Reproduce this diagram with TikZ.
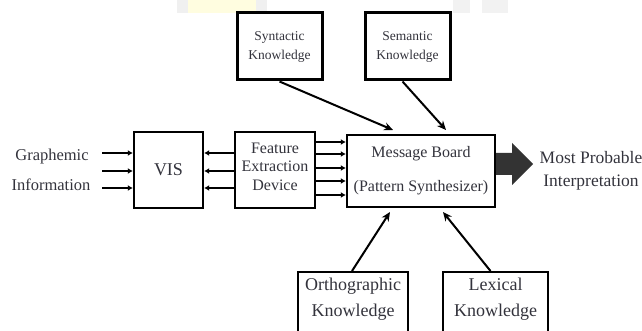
\documentclass[tikz,border=0pt]{standalone}
\usepackage{fontspec}
\setmainfont{Liberation Serif}
\usetikzlibrary{arrows.meta,calc}
\definecolor{txt}{HTML}{33333C}
\tikzset{
  box/.style={draw=black, line width=2.4pt, fill=white, inner sep=0pt, align=center, text=txt, font=\fontsize{15}{19}\selectfont},
  topbox/.style={box, line width=3pt, font=\fontsize{13.5}{19}\selectfont},
  botbox/.style={box},
  arr/.style={line width=2pt, -{Latex[length=5pt,width=6pt]}},
  diag/.style={line width=2pt, -{Stealth[length=9pt,width=8pt]}},
  lbl/.style={text=txt, align=center, inner sep=0pt}
}
\begin{document}
\begin{tikzpicture}[x=1pt,y=-1pt]
\useasboundingbox (0,0) rectangle (642,331);
% faint background strip at the top
\fill[black!6] (177,0) rectangle (267,13);
\fill[yellow!12] (188,0) rectangle (256,13);
\fill[black!5] (453,0) rectangle (470,13);
\fill[black!5] (482,0) rectangle (508,13);

% boxes
\node[topbox, minimum width=85pt, minimum height=67pt] (syn) at (279.5,46.5) {Syntactic\\Knowledge};
\node[topbox, minimum width=85pt, minimum height=67pt] (sem) at (407.5,46.5) {Semantic\\Knowledge};
\node[box, minimum width=69pt, minimum height=76pt, font=\fontsize{18}{19}\selectfont] (vis) at (168.5,170) {VIS};
\node[box, minimum width=80pt, minimum height=76pt] (fed) at (275,170) {};
\node[lbl, font=\fontsize{16}{18.5}\selectfont] (fedT) at (275,166.5) {Feature\\Extraction\\Device};
\node[box, minimum width=148pt, minimum height=72pt, font=\fontsize{16}{19}\selectfont] (mb) at (421,171) {Message Board\\[15pt](Pattern Synthesizer)};
\node[botbox, minimum width=110pt, minimum height=74pt, anchor=north] (orth) at (353,271) {};
\node[botbox, minimum width=105pt, minimum height=74pt, anchor=north] (lex) at (495.5,271) {};
\node[lbl, font=\fontsize{18}{23}\selectfont] (orthT) at (353,299) {Orthographic\\[3pt]Knowledge};
\node[lbl, font=\fontsize{18}{23}\selectfont] (lexT) at (495.5,299) {Lexical\\[3pt]Knowledge};

% labels
\node[lbl, font=\fontsize{16.5}{19}\selectfont] (gr) at (52,157) {Graphemic};
\node[lbl, font=\fontsize{16.5}{19}\selectfont] (inf) at (51,185) {Information};
\node[lbl, font=\fontsize{17.5}{23}\selectfont] (mpi) at (591,171) {Most Probable\\Interpretation};

% input arrows
\coordinate (i1) at (102,153);
\coordinate (i2) at (102,171);
\coordinate (i3) at (102,188);
\foreach \c in {i1,i2,i3}{
  \draw[arr] (\c) -- (\c -| vis.west);
  \draw[arr] (fed.west |- \c) -- (vis.east |- \c);
}
% feature -> message board
\coordinate (m1) at (0,142);
\coordinate (m2) at (0,154);
\coordinate (m3) at (0,168);
\coordinate (m4) at (0,181);
\coordinate (m5) at (0,195);
\foreach \c in {m1,m2,m3,m4,m5}{
  \draw[arr] (fed.east |- \c) -- (mb.west |- \c);
}

% diagonal arrows
\coordinate (t1) at (393,130);
\coordinate (t2) at (446,130);
\coordinate (t3) at (390,212);
\coordinate (t4) at (443,212);
\draw[diag] (syn.south) -- (t1);
\draw[diag] ([xshift=-5pt]sem.south) -- (t2);
\draw[diag] ([xshift=-1pt]orth.north) -- (t3);
\draw[diag] ([xshift=-5pt]lex.north) -- (t4);

% big output arrow
\fill[black!80] (mb.east |- 0,153) -- (512,153) -- (512,143) -- (533,164) -- (512,185) -- (512,175) -- (mb.east |- 0,175) -- cycle;
\end{tikzpicture}
\end{document}
